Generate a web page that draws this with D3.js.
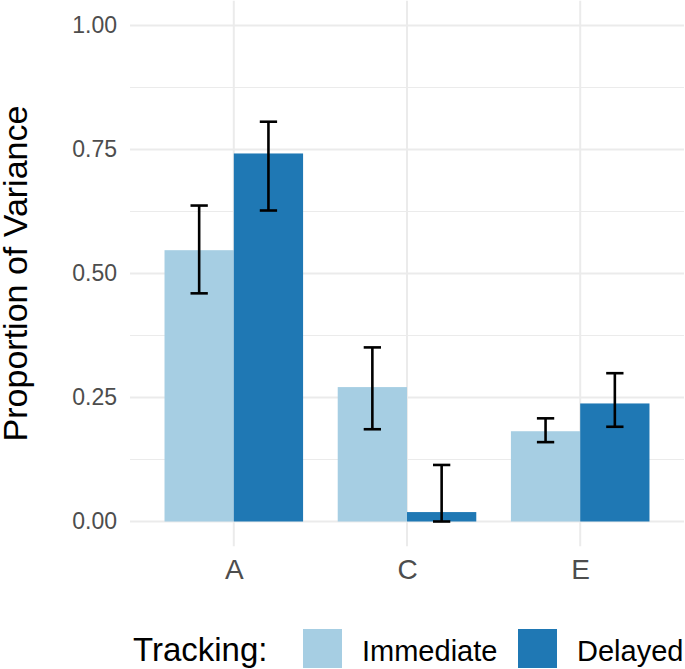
<!DOCTYPE html>
<html><head><meta charset="utf-8">
<script src="https://cdn.jsdelivr.net/npm/d3@7"></script>
<style>body{margin:0;background:#fff}svg{display:block;font-family:"Liberation Sans",Arial,sans-serif}</style>
</head><body><svg id="c" width="685" height="669"></svg>
<script>
const categories = ["A", "C", "E"];
const groups = ["Immediate", "Delayed"];
const immediateValues = [0.547, 0.271, 0.182];
const immediateLower = [0.460, 0.186, 0.160];
const immediateUpper = [0.637, 0.351, 0.208];
const delayedValues = [0.742, 0.019, 0.238];
const delayedLower = [0.627, 0.000, 0.191];
const delayedUpper = [0.806, 0.114, 0.299];
const yTicks = [0, 0.25, 0.5, 0.75, 1];
const yMinor = [0.125, 0.375, 0.625, 0.875];
const colors = ["#A6CEE3", "#1F78B4"];

const rows = [];
categories.forEach((c, i) => {
  rows.push({cat: c, grp: groups[0], v: immediateValues[i], lo: immediateLower[i], hi: immediateUpper[i]});
  rows.push({cat: c, grp: groups[1], v: delayedValues[i], lo: delayedLower[i], hi: delayedUpper[i]});
});

const svg = d3.select("#c");
const pLeft = 130, pRight = 684, pTop = 0.7, pBottom = 546.3;

const x = d3.scalePoint().domain(categories).range([pLeft + 103.8, pRight - 103.8]);
const step = x.step();
const y = d3.scaleLinear().domain([-0.05, 1.05]).range([pBottom, pTop]);
const xs = d3.scaleBand().domain(groups).range([-0.4 * step, 0.4 * step]);
const color = d3.scaleOrdinal().domain(groups).range(colors);

const grid = svg.append("g");
grid.selectAll(".minor").data(yMinor).join("line").attr("class", "minor")
  .attr("x1", pLeft).attr("x2", pRight).attr("y1", d => y(d)).attr("y2", d => y(d))
  .attr("stroke", "#EBEBEB").attr("stroke-width", 1);
grid.selectAll(".major").data(yTicks).join("line").attr("class", "major")
  .attr("x1", pLeft).attr("x2", pRight).attr("y1", d => y(d)).attr("y2", d => y(d))
  .attr("stroke", "#EBEBEB").attr("stroke-width", 2);
grid.selectAll(".vmaj").data(categories).join("line").attr("class", "vmaj")
  .attr("x1", d => x(d)).attr("x2", d => x(d)).attr("y1", pTop).attr("y2", pBottom)
  .attr("stroke", "#EBEBEB").attr("stroke-width", 2);

svg.append("g").selectAll("rect").data(rows).join("rect")
  .attr("x", d => x(d.cat) + xs(d.grp))
  .attr("width", xs.bandwidth())
  .attr("y", d => y(d.v))
  .attr("height", d => y(0) - y(d.v))
  .attr("fill", d => color(d.grp));

const eb = svg.append("g").attr("stroke", "#000").attr("stroke-width", 2.6).attr("fill", "none");
const capW = 0.05 * step;
rows.forEach(d => {
  const cx = x(d.cat) + xs(d.grp) + xs.bandwidth() / 2;
  eb.append("line").attr("x1", cx).attr("x2", cx).attr("y1", y(d.lo)).attr("y2", y(d.hi));
  eb.append("line").attr("x1", cx - capW).attr("x2", cx + capW).attr("y1", y(d.lo)).attr("y2", y(d.lo));
  eb.append("line").attr("x1", cx - capW).attr("x2", cx + capW).attr("y1", y(d.hi)).attr("y2", y(d.hi));
});

const yAxis = svg.append("g").attr("transform", `translate(${pLeft},0)`)
  .call(d3.axisLeft(y).tickValues(yTicks).tickFormat(d3.format(".2f")).tickSize(0).tickPadding(13));
yAxis.select(".domain").remove();
yAxis.selectAll("text").attr("font-size", 23).attr("fill", "#4D4D4D").attr("font-family", "Liberation Sans, Arial, sans-serif");

const xAxis = svg.append("g").attr("transform", `translate(0,${pBottom})`)
  .call(d3.axisBottom(x).tickSize(0).tickPadding(13));
xAxis.select(".domain").remove();
xAxis.selectAll("text").attr("font-size", 28).attr("fill", "#4D4D4D").attr("font-family", "Liberation Sans, Arial, sans-serif");

svg.append("text").attr("transform", `translate(26.5,${(pTop + pBottom) / 2}) rotate(-90)`)
  .attr("text-anchor", "middle").attr("font-size", 34).attr("fill", "#000")
  .text("Proportion of Variance");

const lg = svg.append("g");
lg.append("text").attr("x", 133).attr("y", 661).attr("font-size", 33).attr("fill", "#000").text("Tracking:");
const keyX = [303, 518], textX = [362, 577];
groups.forEach((g, i) => {
  lg.append("rect").attr("x", keyX[i]).attr("y", 629).attr("width", 39).attr("height", 39).attr("fill", color(g));
  lg.append("text").attr("x", textX[i]).attr("y", 661).attr("font-size", 29).attr("fill", "#000").text(g);
});
</script></body></html>
